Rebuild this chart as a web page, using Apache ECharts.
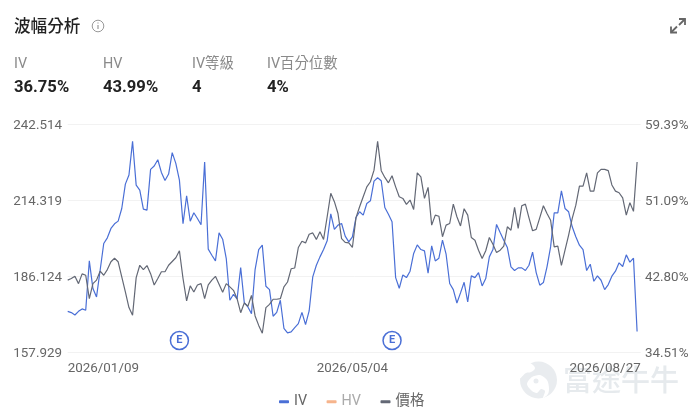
<!DOCTYPE html>
<html>
<head>
<meta charset="utf-8">
<style>html,body{margin:0;padding:0;background:#fff}#c{width:700px;height:416px}</style>
<script src="https://cdn.jsdelivr.net/npm/echarts@6/dist/echarts.min.js"></script>
</head>
<body>
<div id="c"></div>
<script>
const priceValues = [184.6,185.2,186.0,183.3,186.9,186.4,177.7,183.3,184.6,187.9,186.4,188.5,191.4,192.7,191.4,185.8,180.2,174.4,171.6,185.5,190.1,188.5,190.0,187.0,182.8,185.2,187.7,187.7,190.1,191.5,192.9,195.5,185.2,176.9,182.5,180.2,182.8,183.3,177.7,182.8,184.6,186.0,183.1,180.1,183.3,
182.1,180.8,177.7,172.5,176.1,174.9,178.9,171.3,167.8,164.9,174.4,175.6,177.5,177.5,177.7,182.1,183.9,188.8,189.1,196.7,199.0,198.4,201.6,202.1,199.7,202.5,199.7,208.1,216.8,213.7,209.3,200.0,198.6,198.4,196.7,207.8,211.8,215.5,219.2,221.1,225.4,236.1,225.2,222.7,220.7,223.3,219.2,215.5,214.9,212.7,214.3,210.8,224.4,222.9,214.9,219.0,205.0,208.7,208.3,200.7,205.0,205.6,212.8,208.1,204.7,211.1,208.7,
200.4,199.4,195.7,192.6,195.5,200.4,197.9,194.8,195.7,197.2,204.4,203.1,211.6,203.8,212.2,212.8,207.7,202.9,203.4,207.8,212.2,209.3,206.8,196.9,197.2,190.1,195.7,201.3,207.5,212.4,219.5,219.5,224.4,217.6,217.6,224.4,225.7,225.7,225.2,219.9,217.6,217.0,215.1,208.7,213.3,210.1,228.4];
const ivValues = [38.95,38.81,38.55,38.95,39.21,39.06,44.45,41.43,40.52,43.43,46.35,46.97,47.99,48.50,48.79,50.17,52.83,53.82,57.50,52.72,52.18,50.10,49.99,54.44,54.80,55.49,54.11,53.23,53.93,56.26,55.09,53.27,48.50,51.56,48.79,49.70,49.08,48.39,55.24,45.73,45.07,44.45,47.51,46.82,44.71,
40.16,40.81,40.30,43.73,39.90,39.43,38.70,43.51,45.69,46.17,41.69,41.32,38.41,38.84,40.16,37.10,36.59,36.70,37.17,37.61,38.84,37.50,38.99,42.71,43.98,44.89,45.69,46.64,49.59,47.88,48.35,48.53,47.15,46.53,47.08,49.19,49.81,49.45,50.72,51.01,53.16,53.53,53.20,50.28,49.55,48.72,42.63,41.47,42.92,42.63,43.33,45.26,46.20,45.69,45.55,43.11,46.09,44.45,44.75,46.71,45.18,41.98,41.32,39.86,40.96,42.12,39.97,
42.82,42.63,43.18,41.72,42.52,44.89,45.69,48.43,47.55,46.71,45.91,43.80,43.40,43.69,43.69,43.40,43.98,45.40,43.18,41.80,42.09,43.80,45.98,49.70,49.70,52.10,50.17,49.81,48.17,47.08,46.17,45.69,43.40,44.09,42.23,42.82,42.34,41.32,41.87,42.78,43.33,44.24,43.84,45.11,44.31,44.75,36.75];
const hvValues = [];
const priceTicks = [157.929,186.124,214.319,242.514];
const ivTicks = [34.51,42.80,51.09,59.39];
const dateLabels = {0:'2026/01/09',79:'2026/05/04',159:'2026/08/27'};
const categories = priceValues.map((_, i) => i).concat([159]);
const earningsIndex = [31,90];
const earningsLevel = 162.2;
const kpis = [['IV','36.75%',14],['HV','43.99%',103],['IV等級','4',192],['IV百分位數','4%',267]];

const BLUE='#4a6fd6', GRAY='#636875', PEACH='#f6b48c';
const LAT='Roboto,"Noto Sans CJK TC",sans-serif';
const g=[];
const T=(x,y,text,font,size,weight,fill,z)=>g.push({type:'text',x,y,z:z||5,style:{text,fill,font:`${weight} ${size}px ${font}`,textVerticalAlign:'middle',verticalAlign:'middle'}});
T(14,26,'波幅分析','"Noto Sans CJK TC"',16.6,500,'#222');
kpis.forEach(k=>{T(k[2],64,k[0],LAT,14.4,400,'#8a8a8a');T(k[2],88,k[1],LAT,16.6,700,'#222');});
// info icon
g.push({type:'circle',shape:{cx:98,cy:26,r:5.8},style:{fill:'none',stroke:'#999',lineWidth:1}});
g.push({type:'line',shape:{x1:98,y1:25,x2:98,y2:29},style:{stroke:'#999',lineWidth:1.2}});
g.push({type:'line',shape:{x1:98,y1:22.5,x2:98,y2:23.6},style:{stroke:'#999',lineWidth:1.2}});
// expand icon
[[[679,19],[685,19],[685,25]],[[685,19],[679,25]],[[671,26.5],[671,32.5],[677,32.5]],[[671,32.5],[677,26.5]]].forEach(p=>g.push({type:'polyline',shape:{points:p},style:{fill:'none',stroke:'#666',lineWidth:1.8}}));
// watermark
g.push({type:'circle',z:-1,shape:{cx:538.5,cy:380,r:18.5},style:{fill:'#e9ecef'}});
g.push({type:'polygon',z:-1,shape:{points:[[520,378],[526,373],[531,372],[535,368],[530,363],[525,363],[521,370]],smooth:0.4},style:{fill:'#fff'}});
g.push({type:'polygon',z:-1,shape:{points:[[527,384],[532,377],[540,375],[547,380],[549,388],[548,394],[543,398],[545,391],[541,389],[537,393],[532,391]],smooth:0.3},style:{fill:'#fff'}});
g.push({type:'circle',z:-1,shape:{cx:536,cy:381,r:2.5},style:{fill:'#e9ecef'}});
g.push({type:'text',x:563,y:380,z:-1,style:{text:'富途牛牛',fill:'#e6eaed',font:'500 29px "Noto Sans CJK TC"',verticalAlign:'middle',textVerticalAlign:'middle'}});

const chart=echarts.init(document.getElementById('c'),null,{renderer:'canvas'});
const axisLabel={color:'#666',fontSize:13.4,fontFamily:LAT};
const splitLine={show:true,lineStyle:{color:'#f2f2f2',width:1}};
chart.setOption({
  animation:false,
  backgroundColor:'#fff',
  textStyle:{fontFamily:LAT},
  graphic:{elements:g},
  grid:{left:67.7,right:59.3,top:124,bottom:64,containLabel:false},
  legend:{
    bottom:2,left:274,itemWidth:10,itemHeight:3,itemGap:19.5,
    icon:'roundRect',selectedMode:false,
    textStyle:{fontSize:14.4,color:'#666',fontFamily:LAT},
    data:[{name:'IV'},{name:'HV',textStyle:{color:'#aaa'}},{name:'價格'}]
  },
  xAxis:{
    type:'category',data:categories,boundaryGap:false,
    axisLine:{show:false},axisTick:{show:false},splitLine:{show:false},
    axisLabel:{...axisLabel,margin:9.5,alignMinLabel:'left',alignMaxLabel:'right',showMinLabel:true,showMaxLabel:true,hideOverlap:false,
      interval:(i)=>dateLabels[i]!==undefined,
      formatter:(v,i)=>dateLabels[i]||''}
  },
  yAxis:[
    {type:'value',position:'left',min:priceTicks[0],max:priceTicks[3],
     axisLine:{show:false},axisTick:{show:false,customValues:priceTicks},splitLine,
     axisLabel:{...axisLabel,margin:5.7,verticalAlign:'top',lineHeight:4,customValues:priceTicks,formatter:v=>v.toFixed(3)}},
    {type:'value',position:'right',min:ivTicks[0],max:ivTicks[3],
     axisLine:{show:false},axisTick:{show:false,customValues:ivTicks},splitLine:{show:false},
     axisLabel:{...axisLabel,margin:4.3,verticalAlign:'top',lineHeight:4,customValues:ivTicks,formatter:v=>v.toFixed(2)+'%'}}
  ],
  series:[
    {name:'IV',type:'line',yAxisIndex:1,data:ivValues,showSymbol:false,symbol:'none',color:BLUE,lineStyle:{width:1.2,color:BLUE},z:3},
    {name:'HV',type:'line',yAxisIndex:1,data:hvValues,showSymbol:false,symbol:'none',color:PEACH,lineStyle:{width:1.2,color:PEACH},z:2},
    {name:'價格',type:'line',yAxisIndex:0,data:priceValues,showSymbol:false,symbol:'none',color:GRAY,lineStyle:{width:1.2,color:GRAY},z:4,
     markPoint:{silent:true,animation:false,symbol:'circle',symbolSize:18,
       itemStyle:{color:'#fff',borderColor:BLUE,borderWidth:1.5},
       label:{show:true,formatter:'E',color:BLUE,fontSize:11,fontWeight:700,fontFamily:LAT},
       data:earningsIndex.map(i=>({coord:[i,earningsLevel]}))}}
  ]
});
</script>
</body>
</html>
